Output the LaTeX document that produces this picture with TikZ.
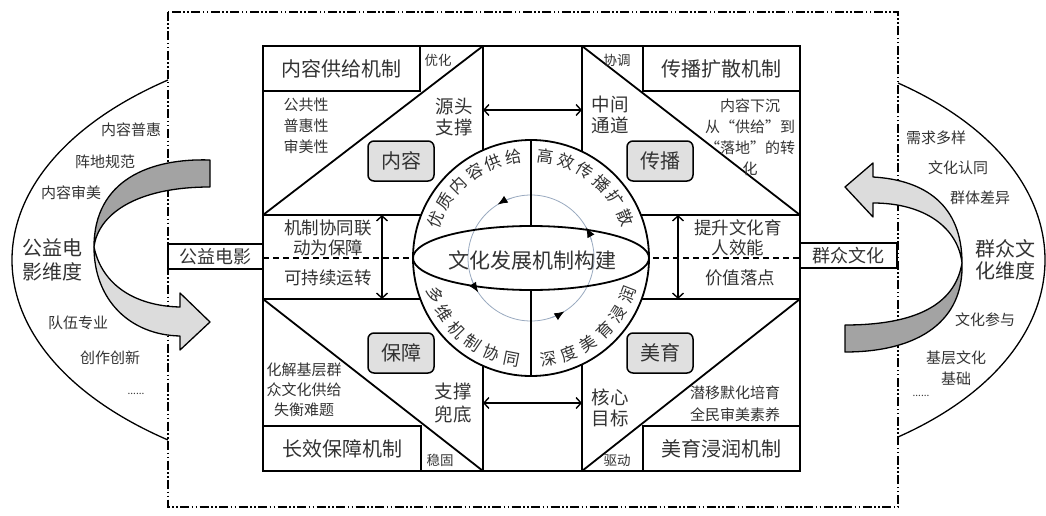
\documentclass[tikz,border=0pt]{standalone}
\usepackage{fontspec}
\setmainfont{Noto Sans CJK SC}
\usetikzlibrary{arrows.meta,calc}
\definecolor{txtc}{HTML}{333333}
\definecolor{boxgray}{HTML}{E0E0E0}
\definecolor{darkband}{HTML}{A3A3A3}
\definecolor{lightband}{HTML}{DCDCDC}
\definecolor{ringc}{HTML}{9AAAC0}
\newcommand{\fs}[2]{\fontsize{#1}{#2}\selectfont}
\begin{document}
\begin{tikzpicture}[x=1pt,y=-1pt,
  lbl/.style={text=txtc, inner sep=0pt, align=center},
  tA/.style={lbl, font=\fs{20}{22}},
  tB/.style={lbl, font=\fs{18.5}{21}},
  tC/.style={lbl, font=\fs{15}{21}},
  tD/.style={lbl, font=\fs{13.5}{16}},
  tE/.style={lbl, font=\fs{16.5}{20}},
  tM/.style={lbl, font=\fs{17.5}{20}},
  panelline/.style={line width=1.8pt},
  titlebox/.style={draw, line width=1.8pt, inner sep=0pt, minimum width=157pt, minimum height=45pt, text=txtc, font=\fs{20}{22}},
  sidebox/.style={draw, fill=white, line width=1.6pt, inner sep=0pt, minimum width=95pt, minimum height=25pt, text=txtc, font=\fs{18}{20}},
  graybox/.style={draw, line width=1.5pt, fill=boxgray, rounded corners=6pt, minimum width=66pt, minimum height=40pt, inner sep=0pt, text=txtc, font=\fs{20}{22}},
  dbl/.style={line width=1.4pt, {Straight Barb[length=5pt,width=11pt]}-{Straight Barb[length=5pt,width=11pt]}},
  dashdot/.style={line width=1.4pt, dash pattern=on 9pt off 2.5pt on 1.5pt off 2.5pt on 1.5pt off 2.5pt},
  band/.style={draw, line width=1.3pt, line join=round},
  ringarrow/.style={ringc, line width=0.8pt, -{Latex[length=10pt,width=8pt,color=black]}},
]
\useasboundingbox (0,0) rectangle (1046,516);
\fill[white] (0,0) rectangle (1046,516);

% outer dash-dot frame
\draw[dashdot] (168,12) rectangle (898,507);

% side arcs
\draw[line width=1.3pt] (168,80) .. controls (-40,170) and (-40,350) .. (168,440);
\draw[line width=1.3pt] (898,83) .. controls (1094,170) and (1094,350) .. (898,437);

% left twisted arrow
\draw[band, fill=darkband] (210,160) .. controls (150,158) and (94,180) .. (94,247)
   .. controls (98,215) and (135,187) .. (210,187) -- cycle;
\draw[band, fill=lightband] (94,247) .. controls (94,300) and (130,335) .. (180,336)
   -- (180,350) -- (210,322) -- (180,293) -- (180,307)
   .. controls (135,306) and (102,285) .. (94,247) -- cycle;

% right twisted arrow
\draw[band, fill=lightband] (845,187) -- (873,163) -- (873,177)
   .. controls (925,180) and (962,205) .. (962,263)
   .. controls (958,228) and (925,203) .. (873,203) -- (873,217) -- cycle;
\draw[band, fill=darkband] (962,263) .. controls (964,320) and (920,352) .. (845,352)
   -- (845,325) .. controls (915,325) and (955,305) .. (962,263) -- cycle;

% side labels
\node[tA, font=\fs{20}{24}] (leftdim) at (52,260) {公益电\\影维度};
\node[tA, font=\fs{20}{22}] (rightdim) at (1005,260) {群众文\\化维度};
\node[tC] (l1) at (131,130) {内容普惠};
\node[tC] (l2) at (105,162) {阵地规范};
\node[tC] (l3) at (71,193) {内容审美};
\node[tC] (l4) at (78,323) {队伍专业};
\node[tC] (l5) at (110,358) {创作创新};
\node[lbl, font=\fs{10}{12}] (l6) at (136,394) {......};
\node[tC] (r1) at (936,138) {需求多样};
\node[tC] (r2) at (958,168) {文化认同};
\node[tC] (r3) at (980,198) {群体差异};
\node[tC] (r4) at (985,320) {文化参与};
\node[tC] (r5) at (956,368) {基层文化\\基础};
\node[lbl, font=\fs{10}{12}] (r6) at (921,396) {......};

% center panel
\draw[panelline] (263,46) rectangle (800,471);
\draw[panelline] (483,46) -- (483,471);
\draw[panelline] (582,46) -- (582,471);
\draw[panelline] (263,215) -- (800,215);
\draw[panelline] (263,299) -- (800,299);
\draw[panelline, dash pattern=on 6pt off 4pt] (263,258) -- (800,258);
\draw[panelline] (263,215) -- (483,46);
\draw[panelline] (582,46) -- (800,215);
\draw[panelline] (263,299) -- (483,471);
\draw[panelline] (582,471) -- (800,299);

% side boxes
\node[sidebox] (gyy) at (215.5,256.5) {公益电影};
\node[sidebox, minimum width=97pt] (qzwh) at (848.5,255.5) {群众文化};

% title boxes
\node[titlebox] (nrgj) at (341.5,68.5) {内容供给机制};
\node[titlebox] (cbks) at (721.5,68.5) {传播扩散机制};
\node[titlebox, minimum width=158pt] (cxbz) at (342,448.5) {长效保障机制};
\node[titlebox] (myjr) at (721.5,448.5) {美育浸润机制};

% gray boxes
\node[graybox] (nr) at (401,161) {内容};
\node[graybox] (cb) at (660,161) {传播};
\node[graybox] (bz) at (401,353) {保障};
\node[graybox] (my) at (660,353) {美育};

% quadrant texts
\node[tD] at (438,60) {优化};
\node[tB] at (454,117) {源头\\支撑};
\node[tC] at (306,126) {公共性\\普惠性\\审美性};
\node[tD] at (617,60) {协调};
\node[tB] at (610,115) {中间\\通道};
\node[tC] at (750,137) {内容下沉\\从“供给”到\\“落地”的转\\化};
\node[tC, font=\fs{15}{20}] at (304,390) {化解基层群\\众文化供给\\失衡难题};
\node[tB, font=\fs{18.5}{23}] at (453,403) {支撑\\兜底};
\node[tD] at (440,460) {稳固};
\node[tB] at (610,408) {核心\\目标};
\node[tC, font=\fs{15}{22}] at (735,404) {潜移默化培育\\全民审美素养};
\node[tD] at (617,460) {驱动};
\node[tM] at (328,238) {机制协同联\\动为保障};
\node[tM] at (328,278) {可持续运转};
\node[tM] at (738,238) {提升文化育\\人效能};
\node[tM] at (740,278) {价值落点};

% double arrows
\coordinate (tl) at (483,110); \coordinate (tr) at (582,110);
\coordinate (bl) at (483,403); \coordinate (br) at (582,403);
\coordinate (lu) at (382,215); \coordinate (ld) at (382,299);
\coordinate (ru) at (678,215); \coordinate (rd) at (678,299);
\draw[dbl] (tl) -- (tr);
\draw[dbl] (bl) -- (br);
\draw[dbl] (lu) -- (ld);
\draw[dbl] (ru) -- (rd);

% central sphere
\coordinate (C) at (531,258);
\draw[panelline, fill=white] (C) circle[radius=118];
\draw[ringc, line width=0.8pt] (C) circle[radius=63];
\foreach \e in {122,213,302,29}{
  \pgfmathsetmacro{\s}{-(\e-14)}
  \pgfmathsetmacro{\f}{-\e}
  \draw[ringarrow] ($(C)+(\s:63)$) arc[start angle=\s, end angle=\f, radius=63];
}
\draw[panelline] (C) ellipse[x radius=118, y radius=32];
\draw[panelline] ($(C)+(0,-118)$) -- ($(C)+(0,-32)$);
\draw[panelline] ($(C)+(0,32)$) -- ($(C)+(0,118)$);
\node[lbl, font=\fs{21}{23}] (core) at (532,260) {文化发展机制构建};

\foreach \ch [count=\i] in {优,质,内,容,供,给}{
  \pgfmathsetmacro{\a}{158-(\i-1)*11.6}
  \pgfmathsetmacro{\na}{-\a}
  \pgfmathsetmacro{\rr}{\a-90}
  \node[tE, rotate=\rr] at ($(C)+(\na:103)$) {\ch};
}
\foreach \ch [count=\i] in {高,效,传,播,扩,散}{
  \pgfmathsetmacro{\a}{82-(\i-1)*11.8}
  \pgfmathsetmacro{\na}{-\a}
  \pgfmathsetmacro{\rr}{\a-90}
  \node[tE, rotate=\rr] at ($(C)+(\na:103)$) {\ch};
}
\foreach \ch [count=\i] in {多,维,机,制,协,同}{
  \pgfmathsetmacro{\a}{201+(\i-1)*11.6}
  \pgfmathsetmacro{\na}{-\a}
  \pgfmathsetmacro{\rr}{\a+90}
  \node[tE, rotate=\rr] at ($(C)+(\na:103)$) {\ch};
}
\foreach \ch [count=\i] in {深,度,美,育,浸,润}{
  \pgfmathsetmacro{\a}{280+(\i-1)*11.8}
  \pgfmathsetmacro{\na}{-\a}
  \pgfmathsetmacro{\rr}{\a+90}
  \node[tE, rotate=\rr] at ($(C)+(\na:103)$) {\ch};
}
\end{tikzpicture}
\end{document}
